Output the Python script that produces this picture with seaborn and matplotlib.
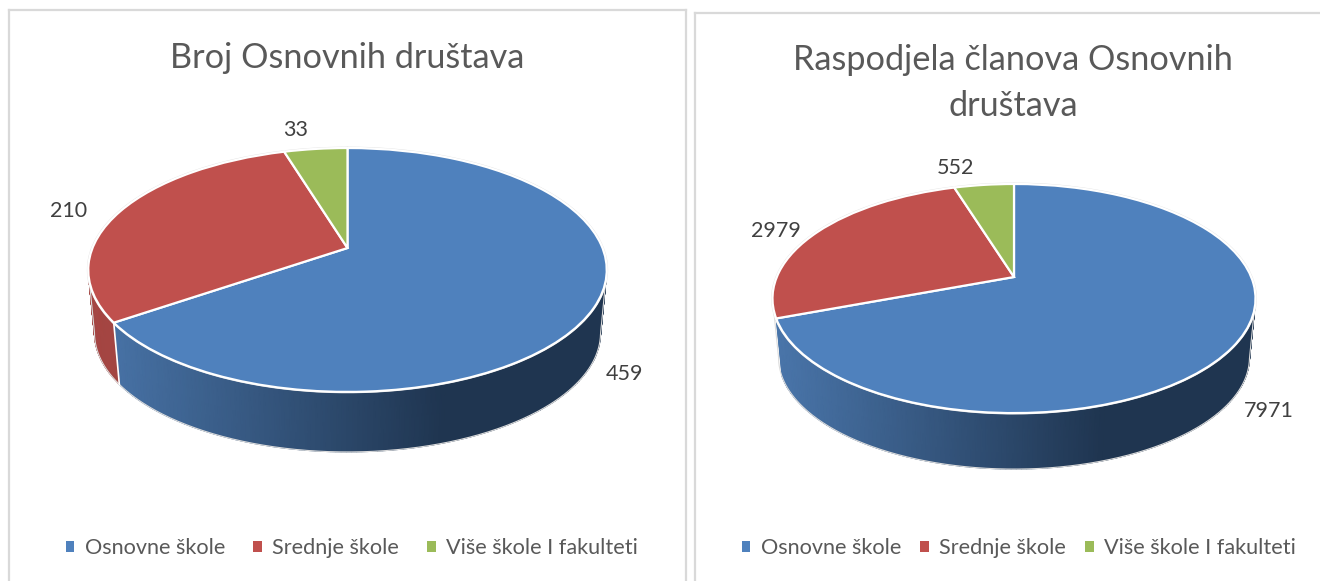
import numpy as np
import seaborn as sns
import matplotlib
matplotlib.use('Agg')
import matplotlib.pyplot as plt
from matplotlib.colors import LinearSegmentedColormap
from matplotlib.patches import Patch
from matplotlib.transforms import Transform

# data
categories = ['Osnovne škole', 'Srednje škole', 'Više škole I fakulteti']
drustva = [459, 210, 33]
clanovi = [7971, 2979, 552]
title_left = 'Broj Osnovnih društava'
title_right = 'Raspodjela članova Osnovnih\ndruštava'

W, H = 1320, 581

sns.set_theme(style='white')
plt.rcParams['font.family'] = ['Lato', 'DejaVu Sans']

colors = sns.color_palette(['#4F81BD', '#C0504D', '#9BBB59'])
side_cmaps = [
    LinearSegmentedColormap.from_list('b', [(0, '#4a76ab'), (0.685, '#1f3550'), (1, '#1f3550')]),
    LinearSegmentedColormap.from_list('r', ['#a64643', '#6f2c2a']),
    LinearSegmentedColormap.from_list('g', ['#7d9a45', '#4f6229']),
]
TEXT = '#595959'
LABEL = '#404040'


class Tilt(Transform):
    # unit circle of the pie -> pixels, with perspective like the excel 3d pie
    input_dims = 2
    output_dims = 2

    def __init__(self, cx, cy, a, b, k):
        super().__init__()
        self.cx, self.cy, self.a, self.b, self.k = cx, cy, a, b, k

    def transform_non_affine(self, values):
        values = np.asarray(values, dtype=float)
        d = 1 + self.k * values[:, 1]
        return np.column_stack([self.cx + self.a * values[:, 0] / d,
                                self.cy - self.b * values[:, 1] / d])


def add_panel(rect, spines, values, title, title_pos, geo, label_pos, leg_center, col_space, sides):
    x0, y0, x1, y1 = rect
    ax = fig.add_axes([x0 / W, 1 - y1 / H, (x1 - x0) / W, (y1 - y0) / H])
    tilt = Tilt(*geo['top'])
    cx, cy, a, b, k = geo['top']
    shrink, depth = geo['side']
    half = a / np.sqrt(1 - k ** 2)

    def rim(t):
        return tilt.transform_non_affine(np.column_stack([np.sin(t), np.cos(t)]))

    def lower(p):
        return np.column_stack([cx + shrink * (p[:, 0] - cx),
                                cy + depth + shrink * (p[:, 1] - cy)])

    wedges, _ = ax.pie(values, colors=colors, startangle=90, counterclock=False,
                       wedgeprops=dict(edgecolor='white', linewidth=1.6, zorder=3))
    for w in wedges:
        w.set_transform(tilt + ax.transData)

    # side of the cake, shaded along x
    cuts = np.cumsum([0] + list(values)) / np.sum(values) * 2 * np.pi
    for i in sides:
        t = np.linspace(cuts[i], cuts[i + 1], 240)
        top, bot = rim(t), lower(rim(t))
        xx = np.vstack([top[:, 0], bot[:, 0]])
        yy = np.vstack([top[:, 1], bot[:, 1]])
        ax.pcolormesh(xx, yy, (xx - cx) / half, shading='gouraud', cmap=side_cmaps[i],
                      vmin=-1, vmax=1, zorder=1)
    if len(sides) > 1:
        for c in cuts[1:-1]:
            if np.cos(c) < 0:
                top = rim(np.array([c]))
                bot = lower(top)
                ax.plot([top[0, 0], bot[0, 0]], [top[0, 1], bot[0, 1]], color='white', lw=1.2, zorder=2)

    # thin grey outer line
    t = np.linspace(0, 2 * np.pi, 500)
    ring = rim(t)
    ax.plot(ring[:, 0], ring[:, 1], color='#e2e2e2', lw=2.0, zorder=1.5)
    t_edge = np.arccos(-k)
    t = np.linspace(t_edge, 2 * np.pi - t_edge, 300)
    arc = lower(rim(t))
    ends = rim(np.array([t_edge, 2 * np.pi - t_edge]))
    outline = np.vstack([ends[:1], arc, ends[1:]])
    ax.plot(outline[:, 0], outline[:, 1], color='#dcdcdc', lw=0.8, zorder=1.2)

    for v, pos in zip(values, label_pos):
        ax.text(pos[0], pos[1], str(v), ha='center', va='center', fontsize=15.5, color=LABEL)

    ax.text(title_pos[0], title_pos[1], title, ha='center', va='center', fontsize=24.7,
            color=TEXT, linespacing=1.55)

    handles = [Patch(facecolor=c, edgecolor='none') for c in colors]
    ax.legend(handles, categories, ncol=3, frameon=False, fontsize=15.6, labelcolor=TEXT,
              loc='center', bbox_to_anchor=((leg_center - x0) / (x1 - x0), (y1 - 548) / (y1 - y0)),
              handlelength=0.38, handleheight=0.38, handletextpad=0.5,
              columnspacing=col_space, borderaxespad=0, borderpad=0)

    ax.set_aspect('auto')
    ax.set(frame_on=True, xticks=[], yticks=[], xlim=(x0, x1), ylim=(y1, y0))
    for name, spine in ax.spines.items():
        spine.set_visible(name in spines)
        spine.set_color('#d9d9d9')
        spine.set_linewidth(1.6)
    return ax


fig = plt.figure(figsize=(W / 100, H / 100), dpi=100, facecolor='white')

add_panel((9, 10, 686, 581), ('left', 'top', 'right'), drustva, title_left, (347, 58),
          dict(top=(347.5, 248, 255, 118, 0.18), side=(0.976, 63.5)),
          [(624, 373.5), (69, 211), (296, 129.5)], 352, 1.3, (0, 1))
add_panel((695, 13, 1322, 583), ('left', 'top'), clanovi, title_right, (1013, 83),
          dict(top=(1014, 277, 237.2, 110.5, 0.188), side=(0.975, 59.4)),
          [(1269, 411), (776, 231), (955, 168)], 1019, 0.88, (0,))

fig.savefig('out.png', dpi=100)
